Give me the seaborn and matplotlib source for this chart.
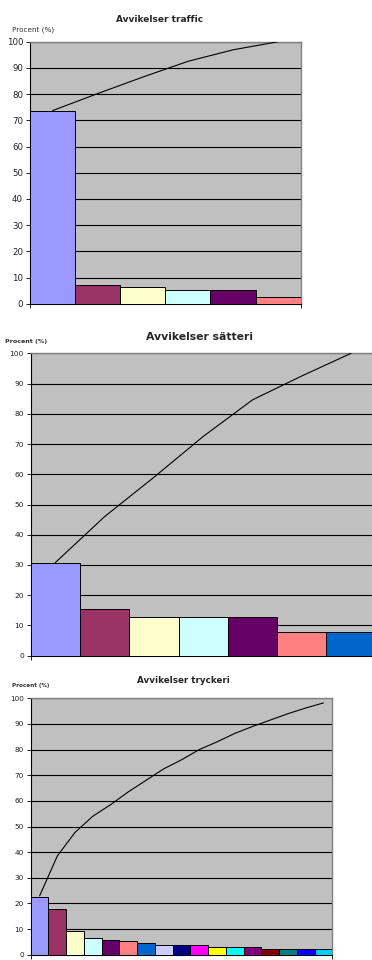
import matplotlib
matplotlib.use("Agg")
import matplotlib.pyplot as plt
import seaborn as sns
import pandas as pd

# excel default palette, in bar order
excel_colors = ['#9999FF', '#993366', '#FFFFCC', '#CCFFFF', '#660066', '#FF8080',
                '#0066CC', '#CCCCFF', '#000080', '#FF00FF', '#FFFF00', '#00FFFF',
                '#800080', '#800000', '#008080', '#0000FF', '#00CCFF']

# Avvikelser traffic
traffic_cats = ['T1', 'T2', 'T3', 'T4', 'T5', 'T6']
traffic_pct = [73.7, 7.1, 6.3, 5.2, 5.2, 2.5]
traffic_cum = [73.7, 80.2, 86.5, 92.5, 96.9, 100.0]

# Avvikelser sätteri
satteri_cats = ['S1', 'S2', 'S3', 'S4', 'S5', 'S6', 'S7']
satteri_pct = [30.8, 15.4, 12.8, 12.8, 12.8, 7.7, 7.7]
satteri_cum = [30.8, 46.0, 59.0, 72.5, 84.6, 92.5, 100.0]

# Avvikelser tryckeri
tryck_cats = ['R%d' % i for i in range(1, 18)]
tryck_pct = [22.6, 17.7, 9.2, 6.4, 5.6, 5.5, 4.7, 3.9, 3.9, 3.9,
             3.1, 3.1, 3.1, 2.3, 2.3, 2.3, 2.3]
tryck_cum = [22.9, 38.5, 47.7, 54.0, 58.5, 63.5, 68.0, 72.5, 76.0, 80.0,
             83.0, 86.3, 89.0, 91.5, 94.0, 96.2, 98.2]

sns.set_style("white")
plt.rcParams['font.family'] = ['DejaVu Sans']

fig = plt.figure(figsize=(3.72, 9.6), dpi=100)


def pareto(rect, cats, pct, cum, title, title_size, title_xy, ylab_xy, ylab_bold, ylab_size, tick_size):
    ax = fig.add_axes(rect)
    df = pd.DataFrame({'cat': cats, 'pct': pct})
    sns.barplot(data=df, x='cat', y='pct', hue='cat', palette=excel_colors[:len(cats)],
                saturation=1, width=1.0, edgecolor='black', linewidth=0.7,
                legend=False, ax=ax, zorder=3)
    sns.lineplot(x=list(range(len(cum))), y=cum, color='black', linewidth=0.8, ax=ax, zorder=4)
    ax.set_facecolor('#C0C0C0')
    ax.set_xlim(-0.5, len(cats) - 0.5)
    ax.set_ylim(0, 100)
    ax.set_yticks(range(0, 101, 10))
    ax.yaxis.grid(True, color='black', linewidth=0.8)
    ax.set_axisbelow(True)
    ax.set_xticks([-0.5, len(cats) - 0.5])
    ax.set_xticklabels([])
    ax.set_xlabel('')
    ax.set_ylabel('')
    ax.tick_params(axis='both', direction='out', length=3, width=0.6, color='black',
                   labelsize=tick_size, labelcolor='#222222', pad=2, left=True, bottom=True)
    for s in ['top', 'right']:
        ax.spines[s].set_color('#808080')
        ax.spines[s].set_linewidth(1.0)
    ax.spines['left'].set_color('black')
    ax.spines['bottom'].set_color('black')
    ax.spines['left'].set_linewidth(0.8)
    ax.spines['bottom'].set_linewidth(0.8)
    fig.text(title_xy[0] / 372, 1 - title_xy[1] / 960, title, ha='center', va='center',
             fontsize=title_size, fontweight='bold')
    fig.text(ylab_xy[0] / 372, 1 - ylab_xy[1] / 960, 'Procent (%)', ha='left', va='center',
             fontsize=ylab_size, fontweight='bold' if ylab_bold else 'normal', color='#333333')
    return ax


pareto([30 / 372, 1 - 303.7 / 960, 270.7 / 372, 262 / 960],
       traffic_cats, traffic_pct, traffic_cum, 'Avvikelser traffic', 6.5,
       (160, 20), (12, 30), False, 5.2, 6.2)
pareto([30.7 / 372, 1 - 655.7 / 960, 345 / 372, 302.4 / 960],
       satteri_cats, satteri_pct, satteri_cum, 'Avvikelser s\u00e4tteri', 7.8,
       (200, 336.5), (5, 342), True, 4.6, 5.4)
pareto([30.7 / 372, 1 - 954.7 / 960, 301.6 / 372, 256.4 / 960],
       tryck_cats, tryck_pct, tryck_cum, 'Avvikelser tryckeri', 6.3,
       (183, 680.5), (12, 685), True, 4.1, 5.2)

fig.savefig('out.png', dpi=100)
